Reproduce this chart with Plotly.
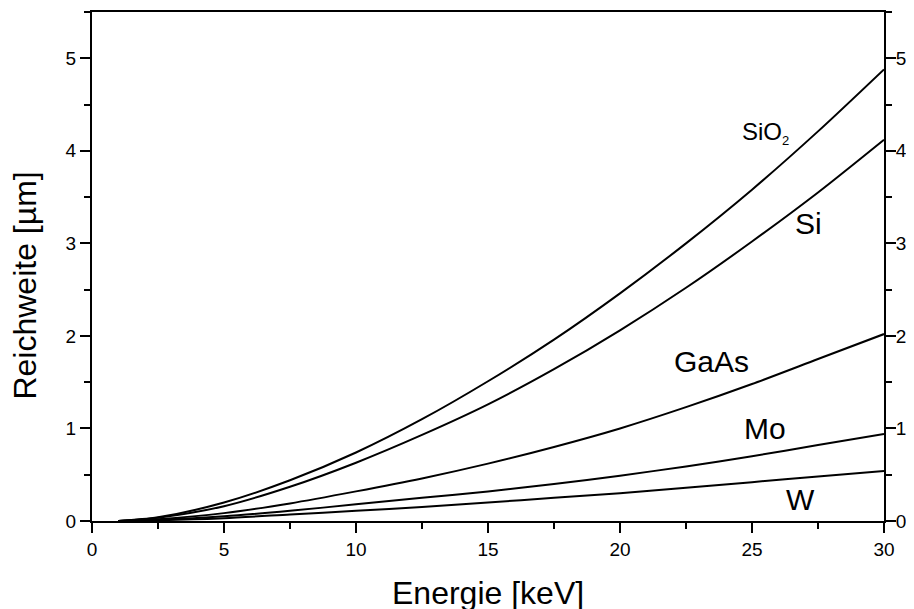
import plotly.graph_objects as go

# Data
energie = [1, 2.5, 5, 7.5, 10, 12.5, 15, 17.5, 20, 22.5, 25, 27.5, 30]
sio2 = [0, 0.04, 0.20, 0.44, 0.74, 1.10, 1.51, 1.96, 2.46, 3.00, 3.58, 4.21, 4.88]
si = [0, 0.035, 0.16, 0.37, 0.63, 0.93, 1.26, 1.64, 2.06, 2.52, 3.02, 3.55, 4.12]
gaas = [0, 0.02, 0.085, 0.19, 0.32, 0.46, 0.62, 0.80, 1.00, 1.23, 1.48, 1.75, 2.02]
mo = [0, 0.012, 0.05, 0.11, 0.18, 0.25, 0.32, 0.40, 0.49, 0.59, 0.70, 0.82, 0.94]
w = [0, 0.008, 0.03, 0.07, 0.11, 0.15, 0.20, 0.25, 0.30, 0.36, 0.42, 0.48, 0.54]

series = [("SiO2", sio2), ("Si", si), ("GaAs", gaas), ("Mo", mo), ("W", w)]

labels = ["SiO<sub><span style='font-size:13px'>2</span></sub>", "Si", "GaAs", "Mo", "W"]
label_x = [25.5, 27.13, 23.47, 25.51, 26.84]
label_y = [4.19, 3.21, 1.72, 1.0, 0.23]
label_size = [24, 30, 30, 30, 30]

FONT = "Liberation Sans, Arial, Helvetica, sans-serif"

fig = go.Figure()
for name, vals in series:
    fig.add_trace(go.Scatter(x=energie, y=vals, mode="lines", name=name,
                             line=dict(color="black", width=2, shape="spline", smoothing=0.8),
                             showlegend=False))
# invisible trace to anchor right axis
fig.add_trace(go.Scatter(x=[energie[0]], y=[0], yaxis="y2", mode="markers",
                         marker=dict(opacity=0), showlegend=False, hoverinfo="skip"))

for t, x, y, s in zip(labels, label_x, label_y, label_size):
    fig.add_annotation(x=x, y=y, text=t, showarrow=False,
                       font=dict(family=FONT, size=s, color="black"),
                       xanchor="center", yanchor="middle")

fig.add_annotation(xref="paper", yref="paper", x=0.5, y=-0.142,
                   text="Energie [keV]", showarrow=False,
                   font=dict(family=FONT, size=32, color="black"),
                   xanchor="center", yanchor="middle")
fig.add_annotation(xref="paper", yref="paper", x=-0.084, y=0.4635,
                   text="Reichweite [µm]", showarrow=False, textangle=-90,
                   font=dict(family=FONT, size=32, color="black"),
                   xanchor="center", yanchor="middle")

tickfont = dict(family=FONT, size=19, color="black")
minor_y = dict(dtick=0.5, ticks="outside", ticklen=6, tickwidth=2, tickcolor="black", showgrid=False)

# page body has an 8px margin, so the figure is 8px smaller and margins shifted
fig.update_layout(
    width=906, height=601,
    margin=dict(l=84, r=30, t=2, b=88),
    paper_bgcolor="white", plot_bgcolor="white",
    xaxis=dict(range=[0, 30], tickvals=[0, 5, 10, 15, 20, 25, 30],
               ticks="outside", ticklen=10, tickwidth=2, tickcolor="black",
               minor=dict(dtick=2.5, ticks="outside", ticklen=6, tickwidth=2,
                          tickcolor="black", showgrid=False),
               showline=True, linewidth=2, linecolor="black", mirror=True,
               showgrid=False, zeroline=False, tickfont=tickfont),
    yaxis=dict(range=[0, 5.5], tickvals=[0, 1, 2, 3, 4, 5],
               ticks="outside", ticklen=10, tickwidth=2, tickcolor="black",
               minor=minor_y,
               showline=True, linewidth=2, linecolor="black",
               showgrid=False, zeroline=False, tickfont=tickfont),
    yaxis2=dict(range=[0, 5.5], tickvals=[0, 1, 2, 3, 4, 5], overlaying="y",
                side="right", ticks="outside", ticklen=10, tickwidth=2,
                tickcolor="black", minor=minor_y, ticklabelstandoff=-4,
                showline=True, linewidth=2, linecolor="black",
                showgrid=False, zeroline=False, tickfont=tickfont),
)

fig.write_html("out.html")
